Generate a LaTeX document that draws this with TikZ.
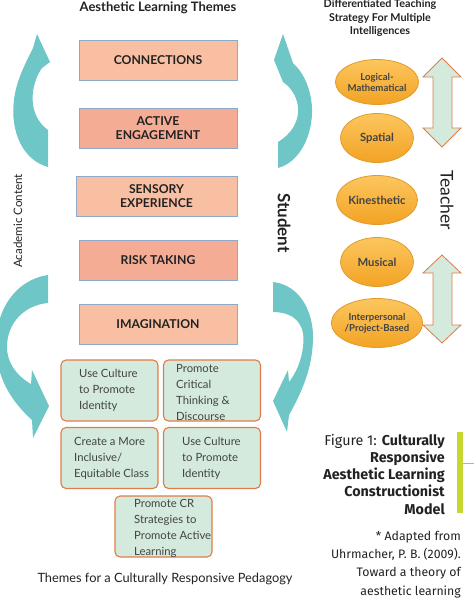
\documentclass[tikz,border=0pt]{standalone}
\usepackage{fontspec}
\setmainfont{Lato}
\newfontfamily\firafont{Fira Sans}
\usetikzlibrary{shapes.geometric}
\definecolor{peach}{HTML}{F9BFA2}
\definecolor{salmon}{HTML}{F5AC95}
\definecolor{bordblue}{HTML}{8DA9CC}
\definecolor{mint}{HTML}{D4EADC}
\definecolor{gborder}{HTML}{E07C48}
\definecolor{tealc}{HTML}{6FC6C6}
\definecolor{orlight}{HTML}{FCC65E}
\definecolor{ordark}{HTML}{F2A324}
\definecolor{orborder}{HTML}{E29A2A}
\definecolor{limec}{HTML}{C6D82F}
\definecolor{txt}{HTML}{222222}
\begin{document}
\begin{tikzpicture}[x=1pt,y=-1pt,
 theme/.style={draw=bordblue, line width=0.8pt, minimum width=158pt, minimum height=40pt, inner sep=0pt, align=center, text=txt, font=\bfseries\fontsize{12.2}{14}\selectfont},
 gbox/.style={draw=gborder, fill=mint, line width=1.1pt, rounded corners=5pt, minimum width=97pt, minimum height=61pt, inner sep=0pt},
 gtext/.style={align=left, inner sep=0pt, text=txt!85, font=\fontsize{11.3}{16}\selectfont},
 mi/.style={ellipse, draw=orborder, line width=0.8pt, top color=orlight, bottom color=ordark, minimum width=73pt, minimum height=49pt, inner sep=0pt, align=center, text=txt!85, font=\bfseries\fontsize{9.6}{11}\selectfont},
 mibig/.style={mi, font=\bfseries\fontsize{11.3}{12}\selectfont},
 tealarrow/.style={fill=tealc, draw=none},
 dblarrow/.style={fill=mint, draw=gborder, line width=0.8pt, line join=miter},
 capfont/.style={font=\firafont\fontsize{14.3}{17.2}\selectfont},
]
\useasboundingbox (0,0) rectangle (474,603);

% titles
\node[font=\bfseries\fontsize{13}{14}\selectfont, text=txt] (t1) at (158,8) {Aesthetic Learning Themes};
\node[font=\bfseries\fontsize{10.8}{13.3}\selectfont, align=center, text=txt] (t2) at (380,18) {Differentiated Teaching\\Strategy For Multiple\\Intelligences};

% curved teal arrows
\fill[tealarrow] (48,167) .. controls (22,160) and (10,130) .. (14,100) .. controls (16,82) and (24,66) .. (33,48) -- (37,34) -- (50,62) -- (42,68) .. controls (30,85) and (27,115) .. (48,130) -- cycle;
\fill[tealarrow] (48,275) .. controls (15,280) and (-4,310) .. (-4,345) .. controls (-4,378) and (12,402) .. (32,420) -- (33,438) -- (49,406) -- (32,370) -- (31,384) .. controls (15,375) and (6,360) .. (7,345) .. controls (8,322) and (25,305) .. (48,303) -- cycle;
\fill[tealarrow] (278,168) .. controls (300,162) and (313,135) .. (312,108) .. controls (311,88) and (303,72) .. (293,63) -- (283,34) -- (274,60) -- (283,82) .. controls (302,95) and (306,125) .. (278,142) -- cycle;
\fill[tealarrow] (273,282) .. controls (300,285) and (314,312) .. (313,340) .. controls (312,368) and (303,390) .. (289,415) -- (287,432) -- (273,401) -- (288,370) -- (289,382) .. controls (300,368) and (305,348) .. (303,333) .. controls (300,318) and (288,312) .. (273,312) -- cycle;

% theme boxes
\node[theme, fill=peach] (c1) at (158,60) {CONNECTIONS};
\node[theme, fill=salmon] (c2) at (158,128) {ACTIVE\\ENGAGEMENT};
\node[theme, fill=peach, minimum width=161pt] (c3) at (156.5,196) {SENSORY\\EXPERIENCE};
\node[theme, fill=salmon] (c4) at (158,260) {RISK TAKING};
\node[theme, fill=peach] (c5) at (158,324) {IMAGINATION};

% culturally responsive boxes
\node[gbox] (g1) at (109.5,390.5) {};
\node[gbox] (g2) at (212,390.5) {};
\node[gbox] (g3) at (109.5,458) {};
\node[gbox] (g4) at (212,458) {};
\node[gbox] (g5) at (163.5,526.5) {};
\node[gtext, anchor=west] (g1t) at (79,390.5) {Use Culture\\to Promote\\Identity};
\node[gtext, anchor=west] (g2t) at (176,392) {Promote\\Critical\\Thinking \&\\Discourse};
\node[gtext, anchor=west] (g3t) at (74,458) {Create a More\\Inclusive/\\Equitable Class};
\node[gtext, anchor=west] (g4t) at (182,458) {Use Culture\\to Promote\\Identity};
\node[gtext, anchor=west] (g5t) at (134,528) {Promote CR\\Strategies to\\Promote Active\\Learning};
\node[font=\fontsize{12.8}{14}\selectfont, text=txt] (cap) at (165,579) {Themes for a Culturally Responsive Pedagogy};

% intelligences
\node[mi, minimum height=45pt] (e1) at (377,82) {Logical-\\Mathematical};
\node[mibig] (e2) at (377,138) {Spatial};
\node[mibig] (e3) at (377,200) {Kinesthetic};
\node[mibig] (e4) at (377,262) {Musical};
\node[mi] (e5) at (377,323) {Interpersonal\\/Project-Based};

% double arrows
\filldraw[dblarrow] (442,58) -- (461,77) -- (452,77) -- (452,128) -- (461,128) -- (442,147) -- (423,128) -- (433,128) -- (433,77) -- (423,77) -- cycle;
\filldraw[dblarrow] (442,255) -- (461,273) -- (452,273) -- (452,325) -- (461,325) -- (442,343) -- (423,325) -- (433,325) -- (433,273) -- (423,273) -- cycle;

% rotated labels
\node[rotate=90, font=\fontsize{11.6}{13}\selectfont, text=txt] (ac) at (18,221) {Academic Content};
\node[rotate=-90, font=\bfseries\fontsize{17}{18}\selectfont, text=txt] (st) at (284,223) {Student};
\node[rotate=-90, font=\fontsize{17.5}{18}\selectfont, text=txt] (te) at (447,200) {Teacher};

% figure caption
\fill[limec] (457,432) rectangle (463,513);
\draw[gray!60, line width=0.8pt] (463,463) -- (474,463);
\node[capfont, anchor=north east, align=right, inner sep=0pt, text=txt] (fig) at (445,434) {Figure 1: \textbf{Culturally}\\\textbf{Responsive}\\\textbf{Aesthetic Learning}\\\textbf{Constructionist}\\\textbf{Model}};
\node[font=\firafont\fontsize{12.3}{18.2}\selectfont, anchor=north east, align=right, inner sep=0pt, text=txt] (fn) at (461,531) {* Adapted from\\Uhrmacher, P. B. (2009).\\Toward a theory of\\aesthetic learning\\experiences. \textit{Curriculum}};
\end{tikzpicture}
\end{document}
